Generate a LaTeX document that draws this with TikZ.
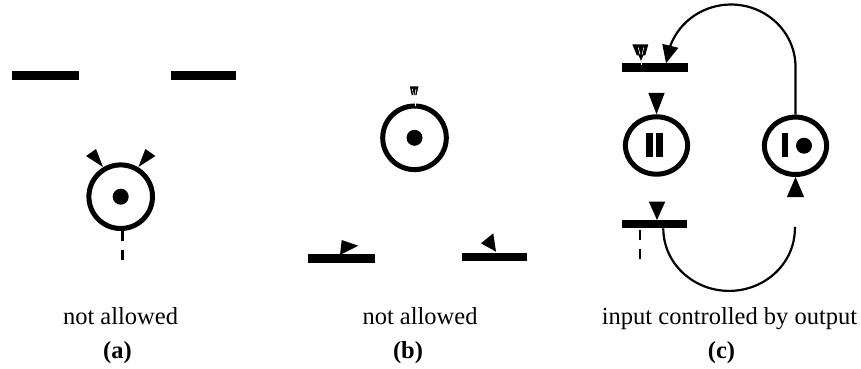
\documentclass[tikz,border=0pt]{standalone}
\usepackage{fontspec}
\setmainfont{Liberation Serif}
\usetikzlibrary{shapes.geometric,arrows.meta}
\begin{document}
\begin{tikzpicture}[x=1pt,y=-1pt,
  place/.style={circle,draw,line width=5pt,minimum size=63.6pt,inner sep=0pt},
  cplace/.style={ellipse,draw,line width=5pt,minimum width=62.2pt,minimum height=57.4pt,inner sep=0pt},
  bar/.style={fill=black,draw=none,inner sep=0pt,outer sep=0pt},
  head/.style={fill=black},
  stripe/.style={draw=white,line width=0.6pt},
  arcline/.style={line width=2.2pt},
  dashline/.style={line width=2.5pt,dash pattern=on 10pt off 8.5pt},
  lbl/.style={font=\fontsize{24.5}{28}\selectfont,anchor=base,inner sep=0pt},
  sub/.style={font=\fontsize{24.5}{28}\selectfont\bfseries,anchor=base,inner sep=0pt}]
\useasboundingbox (0,0) rectangle (861,369);

% ---------- (a)
\node[bar,minimum width=67pt,minimum height=9pt] (a1) at (45.5,75.5) {};
\node[bar,minimum width=65pt,minimum height=9pt] (a2) at (203.5,75.5) {};
\node[place] (pa) at (120.7,196.7) {};
\fill (pa) circle[radius=8];
\fill[head] (86,156) -- (96,149) -- (103,167) -- cycle;
\fill[head] (155.4,156) -- (145.4,149) -- (138.4,167) -- cycle;
\draw[dashline] ([xshift=2pt]pa.south) -- ++(0,29);

% ---------- (b)
\node[place] (pb) at (414.5,137.8) {};
\fill (pb) circle[radius=8];
\fill[head] (409.8,86.3) -- (418.5,86.3) -- (416.5,95) -- (411.7,95) -- cycle;
\draw[stripe] (412.4,89) -- (413.5,95.2);
\draw[stripe] (416,89) -- (414.9,95.2);
\draw[white,line width=1pt] (415.6,102.3) -- (415.6,106);
\node[bar,minimum width=67pt,minimum height=8.5pt] (b1) at (341.5,258.3) {};
\node[bar,minimum width=65pt,minimum height=8pt] (b2) at (494.5,257.3) {};
\fill[head] (341.7,240) -- (358.3,245.7) -- (340,255) -- cycle;
\fill[head] (481,243.3) -- (493.3,233.3) -- (496,251.7) -- cycle;

% ---------- (c)
\node[bar,minimum width=66pt,minimum height=8.4pt] (tb) at (655,67.5) {};
\node[bar,minimum width=65pt,minimum height=8.4pt] (bb) at (654.5,224.2) {};
\node[cplace] (pl) at (656.5,145.5) {};
\node[cplace] (pr) at (795.5,145.8) {};
% tokens
\fill (646,132.7) rectangle (653.3,156.7);
\fill (656,132.7) rectangle (663.3,156.7);
\fill (781.7,132.7) rectangle (788.3,156.7);
\fill (804,145.7) circle[radius=8];
% dashed-looking head on top bar
\fill[head] (632.3,44.3) -- (648.3,44.3) -- (645.2,55.5) -- (636.8,55.5) -- cycle;
\fill[head] (638.5,55) -- (643.5,55) -- (641,61) -- cycle;
\draw[stripe] (638.3,47.5) -- (640,54.5);
\draw[stripe] (643.7,47.5) -- (642.2,54.5);
\draw[white,line width=1pt] (641,60.5) -- (641,64.5);
% arc from right place to top bar
\coordinate (tt) at ([xshift=11pt]tb.north);
\draw[arcline,-{Triangle[length=18pt,width=16pt]}] (pr.north) -- ++(0,-47.6)
  arc[start angle=0,end angle=-160,x radius=64.5,y radius=62.5] -- (tt);
% head into left place
\fill[head] (pl.north) -- ++(-8.2,-21.5) -- ++(16.4,0) -- cycle;
% head into bottom bar
\fill[head] ([xshift=2.5pt]bb.north) -- ++(-8.2,-18.3) -- ++(16.4,0) -- cycle;
% head into right place from below
\fill[head] (pr.south) -- ++(-8.6,20) -- ++(17.2,0) -- cycle;
% lower arc from bottom bar
\draw[arcline] ([xshift=8.8pt]bb.south)
  arc[start angle=180,end angle=0,x radius=65.8,y radius=62.5] -- ++(0,-1.5) coordinate (le);
% dashed line under bottom bar
\draw[dashline] ([shift={(-14.5,1.7)}]bb.south) -- ++(0,30);

% ---------- labels
\node[lbl] (ta) at (120.5,324) {not allowed};
\node[sub] (sa) at (117.5,358) {(a)};
\node[lbl] (tbl) at (420,324) {not allowed};
\node[sub] (sb) at (408,358) {(b)};
\node[lbl] (tc) at (729.5,324) {input controlled by output};
\node[sub] (sc) at (721.5,358) {(c)};
\end{tikzpicture}
\end{document}
